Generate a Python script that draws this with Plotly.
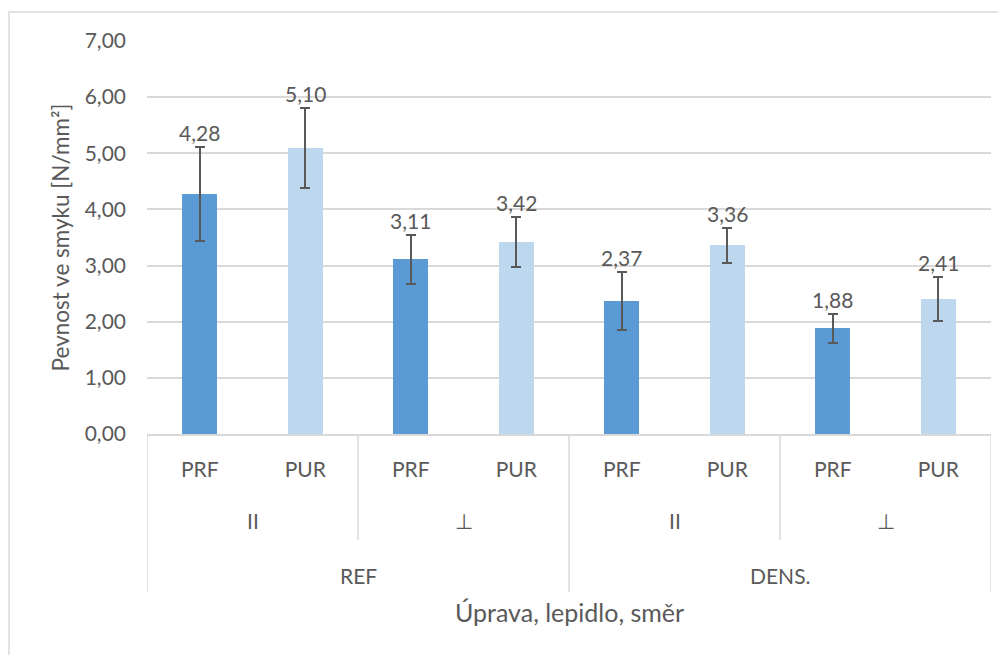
import plotly.graph_objects as go

# ---- data ----
adhesive = ["PRF", "PUR", "PRF", "PUR", "PRF", "PUR", "PRF", "PUR"]
direction = ["II", "⊥", "II", "⊥"]
treatment = ["REF", "DENS."]
values = [4.28, 5.10, 3.11, 3.42, 2.37, 3.36, 1.88, 2.41]
errors = [0.84, 0.71, 0.43, 0.44, 0.52, 0.31, 0.26, 0.39]
y_ticks = [0, 1, 2, 3, 4, 5, 6, 7]

y_title = "Pevnost ve smyku [N/mm²]"
x_title = "Úprava, lepidlo, směr"

# ---- style ----
C_PRF = "#5B9BD5"
C_PUR = "#BDD7EE"
TXT = "#595959"
GRID = "#D9D9D9"
FONT = "Lato"
FS = 21

xs = list(range(len(values)))
colors = [C_PRF if a == "PRF" else C_PUR for a in adhesive]

fig = go.Figure()
fig.add_trace(go.Bar(
    x=xs, y=values, width=0.332,
    marker=dict(color=colors, line=dict(width=0)),
    error_y=dict(type="data", array=errors, visible=True,
                 color=TXT, thickness=2, width=5),
    hoverinfo="skip", showlegend=False,
))

def fmt(v):
    return f"{v:.2f}".replace(".", ",")

annotations = []
for x, v, e in zip(xs, values, errors):
    annotations.append(dict(x=x, y=v + e, xref="x", yref="y", text=fmt(v),
                            showarrow=False, yanchor="bottom", yshift=0,
                            font=dict(family=FONT, size=FS, color=TXT)))

# second level labels
for i, d in enumerate(direction):
    annotations.append(dict(x=2 * i + 0.5, y=-0.219, xref="x", yref="paper",
                            text=d, showarrow=False, yanchor="middle",
                            font=dict(family=FONT, size=FS, color=TXT)))
# third level labels
for i, t in enumerate(treatment):
    annotations.append(dict(x=4 * i + 1.5, y=-0.359, xref="x", yref="paper",
                            text=t, showarrow=False, yanchor="middle",
                            font=dict(family=FONT, size=FS, color=TXT)))
# axis titles
annotations.append(dict(x=0.5, y=-0.453, xref="paper", yref="paper",
                        text=x_title, showarrow=False, yanchor="middle",
                        font=dict(family=FONT, size=25, color=TXT)))
annotations.append(dict(x=-0.102, y=0.5, xref="paper", yref="paper",
                        text=y_title, showarrow=False, textangle=-90,
                        xanchor="center", yanchor="middle",
                        font=dict(family=FONT, size=22.5, color=TXT)))

shapes = []
# divider lines in the category axis
for xb in [-0.5, 3.5, 7.5]:
    shapes.append(dict(type="line", xref="x", yref="paper", x0=xb, x1=xb,
                       y0=0, y1=-0.402, line=dict(color=GRID, width=1.5)))
for xb in [1.5, 5.5]:
    shapes.append(dict(type="line", xref="x", yref="paper", x0=xb, x1=xb,
                       y0=0, y1=-0.2697, line=dict(color=GRID, width=1.5)))
# outer chart border
shapes.append(dict(type="rect", xref="paper", yref="paper",
                   x0=-0.1635, x1=1.03, y0=-0.6, y1=1.0738,
                   line=dict(color=GRID, width=1.5), fillcolor="rgba(0,0,0,0)",
                   layer="below"))

# the page has an 8px body margin, so the figure is 8px smaller
fig.update_layout(
    width=998, height=647,
    margin=dict(l=139, r=15, t=33, b=221),
    paper_bgcolor="white", plot_bgcolor="white",
    font=dict(family=FONT, size=FS, color=TXT),
    xaxis=dict(
        range=[-0.5, 7.5], tickmode="array", tickvals=xs, ticktext=adhesive,
        showgrid=False, zeroline=False, showline=True, linecolor=GRID,
        linewidth=1.5, ticks="", ticklabelstandoff=16,
        tickfont=dict(family=FONT, size=FS, color=TXT), fixedrange=True,
    ),
    yaxis=dict(
        range=[0, 7], tickmode="array", tickvals=y_ticks,
        ticktext=[fmt(t) for t in y_ticks],
        showgrid=True, gridcolor=GRID, gridwidth=1.5,
        zeroline=False, showline=False, ticks="", ticklabelstandoff=20,
        tickfont=dict(family=FONT, size=FS, color=TXT), fixedrange=True,
    ),
    annotations=annotations,
    shapes=shapes,
    bargap=0,
)

fig.write_html("out.html")
